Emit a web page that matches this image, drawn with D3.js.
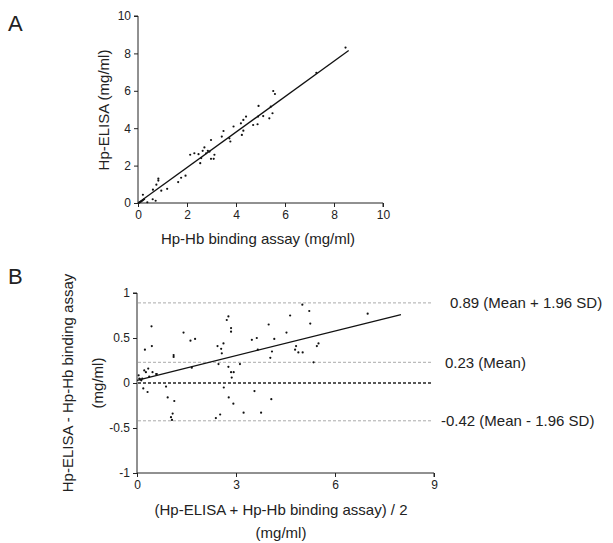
<!DOCTYPE html>
<html>
<head>
<meta charset="utf-8">
<script src="https://cdn.jsdelivr.net/npm/d3@7"></script>
<style>
  body { margin: 0; background: #fff; }
  svg { font-family: "Liberation Sans", Arial, sans-serif; fill: #222; }
  .axis path, .axis line { stroke: #222; }
  .axis text { font-size: 12px; fill: #222; }
</style>
</head>
<body>
<div id="vis"></div>
<script>
// Panel A: Hp-Hb binding assay (x) vs Hp-ELISA (y), mg/ml
var corrX = [0.05, 0.1, 0.15, 0.2, 0.25, 0.2, 0.38, 0.6, 0.61, 0.72, 0.75, 0.83, 0.83, 0.95, 1.19, 1.64, 1.76, 1.94,
  2.13, 2.3, 2.47, 2.54, 2.58, 2.64, 2.71, 2.78, 2.85, 2.92, 2.98, 2.98, 3.09, 3.12, 3.42, 3.49, 3.73, 3.77, 3.9,
  4.2, 4.24, 4.3, 4.41, 4.3, 4.7, 4.88, 4.92, 4.9, 5.11, 5.36, 5.42, 5.49, 5.52, 5.59, 7.28, 8.47];
var corrY = [0.02, 0.06, 0.1, 0.15, 0.2, 0.44, 0.04, 0.2, 0.71, 0.12, 0.98, 1.3, 1.2, 0.66, 0.76, 1.12, 1.35, 1.46,
  2.58, 2.66, 2.61, 2.13, 2.4, 2.79, 2.97, 2.66, 2.79, 2.75, 3.37, 2.36, 2.36, 2.58, 3.55, 3.85, 3.46, 3.29, 4.09,
  4.26, 3.64, 4.44, 4.62, 3.87, 4.17, 4.21, 5.19, 4.62, 4.65, 4.53, 5.15, 4.8, 5.99, 5.83, 6.96, 8.31];
var corrFit = [[0, 0], [8.6, 8.15]];
var corrTicks = [0, 2, 4, 6, 8, 10];

// Panel B: Bland-Altman, mean (x) vs difference (y)
var baX = [0.05, 0.07, 0.1, 0.13, 0.16, 0.19, 0.22, 0.24, 0.27, 0.32, 0.34, 0.37, 0.44, 0.45, 0.47, 0.58, 0.6,
  0.88, 0.93, 1.03, 1.06, 1.08, 1.11, 1.11, 1.13, 1.41, 1.62, 1.66, 1.76, 2.39, 2.44, 2.47, 2.52, 2.55, 2.57,
  2.62, 2.63, 2.72, 2.77, 2.77, 2.78, 2.85, 2.85, 2.85, 2.87, 2.92, 2.93, 3.12, 3.23, 3.48, 3.56, 3.63, 3.66,
  3.76, 3.99, 4.04, 4.07, 4.09, 4.16, 4.53, 4.64, 4.79, 4.82, 4.89, 5.01, 5.02, 5.22, 5.25, 5.35, 5.45, 5.5, 6.99];
var baY = [0.085, 0.05, 0.04, 0.03, 0.05, -0.06, 0.14, 0.37, 0.12, -0.1, 0.16, 0.07, 0.63, 0.41, 0.12, 0.1, 0.1,
  -0.04, -0.16, -0.38, -0.41, -0.34, 0.31, 0.29, -0.2, 0.56, 0.47, 0.17, 0.49, -0.39, 0.41, 0.21, -0.35, 0.38, 0.33,
  0.44, -0.05, 0.7, 0.74, 0.18, -0.16, 0.61, 0.57, 0.12, 0.06, -0.23, 0.12, 0.21, -0.33, 0.48, -0.09, 0.5, 0.37,
  -0.33, 0.65, 0.28, -0.18, 0.35, 0.49, 0.56, 0.75, 0.37, 0.41, 0.34, 0.87, 0.34, 0.8, 0.66, 0.23, 0.41, 0.44, 0.77];
var baFit = [[0, 0.03], [8, 0.76]];
var refValues = [0.89, 0.23, 0, -0.42];
var refLabels = ['0.89 (Mean + 1.96 SD)', '0.23 (Mean)', '', '-0.42 (Mean - 1.96 SD)'];
var baXTicks = [0, 3, 6, 9];
var baYTicks = [1, 0.5, 0, -0.5, -1];

var width = 613;
var height = 543;

var svg = d3.select('#vis').append('svg')
  .attr('width', width)
  .attr('height', height);

// ---- Panel A ----
var xA = d3.scaleLinear().domain([0, 10]).range([138, 383]);
var yA = d3.scaleLinear().domain([0, 10]).range([203, 16]);

svg.append('g')
  .attr('class', 'axis')
  .attr('transform', 'translate(0,' + yA(0) + ')')
  .call(d3.axisBottom(xA).tickValues(corrTicks).tickSize(4).tickFormat(d3.format('d')))
  .call(function (g) { g.select('.domain').attr('d', 'M' + xA(0) + ',0H' + xA(10) + 'V4'); });

svg.append('g')
  .attr('class', 'axis')
  .attr('transform', 'translate(' + xA(0) + ',0)')
  .call(d3.axisLeft(yA).tickValues(corrTicks).tickSize(4).tickFormat(d3.format('d')))
  .call(function (g) { g.select('.domain').attr('d', 'M-4,' + yA(10) + 'H0V' + yA(0)); });

svg.append('g').selectAll('circle')
  .data(d3.range(corrX.length))
  .enter().append('circle')
  .attr('cx', function (i) { return xA(corrX[i]); })
  .attr('cy', function (i) { return yA(corrY[i]); })
  .attr('r', 1.1)
  .attr('fill', '#111');

svg.append('line')
  .attr('x1', xA(corrFit[0][0])).attr('y1', yA(corrFit[0][1]))
  .attr('x2', xA(corrFit[1][0])).attr('y2', yA(corrFit[1][1]))
  .attr('stroke', '#111').attr('stroke-width', 1.3);

svg.append('text')
  .attr('x', 8).attr('y', 31)
  .attr('font-size', 22)
  .text('A');

svg.append('text')
  .attr('transform', 'translate(109,110) rotate(-90)')
  .attr('text-anchor', 'middle')
  .attr('font-size', 15)
  .text('Hp-ELISA  (mg/ml)');

svg.append('text')
  .attr('x', 258).attr('y', 244)
  .attr('text-anchor', 'middle')
  .attr('font-size', 15)
  .text('Hp-Hb binding assay (mg/ml)');

// ---- Panel B ----
var xB = d3.scaleLinear().domain([0, 9]).range([137, 434]);
var yB = d3.scaleLinear().domain([-1, 1]).range([473, 293]);

svg.append('g')
  .attr('class', 'axis')
  .attr('transform', 'translate(0,' + yB(-1) + ')')
  .call(d3.axisBottom(xB).tickValues(baXTicks).tickSize(4).tickFormat(d3.format('d')))
  .call(function (g) { g.select('.domain').attr('d', 'M' + xB(0) + ',0H' + xB(9) + 'V4'); });

svg.append('g')
  .attr('class', 'axis')
  .attr('transform', 'translate(' + xB(0) + ',0)')
  .call(d3.axisLeft(yB).tickValues(baYTicks).tickSize(4).tickFormat(function (d) { return String(d); }))
  .call(function (g) { g.select('.domain').attr('d', 'M-4,' + yB(1) + 'H0V' + yB(-1)); });

var refs = svg.append('g').selectAll('g')
  .data(d3.range(refValues.length))
  .enter().append('g');

refs.append('line')
  .attr('x1', xB(0) + 1)
  .attr('x2', 433)
  .attr('y1', function (i) { return yB(refValues[i]); })
  .attr('y2', function (i) { return yB(refValues[i]); })
  .attr('stroke', function (i) { return refValues[i] === 0 ? '#222' : '#aaa'; })
  .attr('stroke-width', function (i) { return refValues[i] === 0 ? 1.3 : 1; })
  .attr('stroke-dasharray', '3,2');

refs.append('text')
  .attr('x', function (i) { return [450, 445, 0, 441][i]; })
  .attr('y', function (i) { return yB(refValues[i]); })
  .attr('dy', '0.35em')
  .attr('font-size', 15)
  .text(function (i) { return refLabels[i]; });

svg.append('g').selectAll('circle')
  .data(d3.range(baX.length))
  .enter().append('circle')
  .attr('cx', function (i) { return xB(baX[i]); })
  .attr('cy', function (i) { return yB(baY[i]); })
  .attr('r', 1.1)
  .attr('fill', '#111');

svg.append('line')
  .attr('x1', xB(baFit[0][0])).attr('y1', yB(baFit[0][1]))
  .attr('x2', xB(baFit[1][0])).attr('y2', yB(baFit[1][1]))
  .attr('stroke', '#111').attr('stroke-width', 1.3);

svg.append('text')
  .attr('x', 8).attr('y', 284)
  .attr('font-size', 22)
  .text('B');

svg.append('text')
  .attr('transform', 'translate(73,383) rotate(-90)')
  .attr('text-anchor', 'middle')
  .attr('font-size', 15)
  .text('Hp-ELISA - Hp-Hb binding assay');

svg.append('text')
  .attr('transform', 'translate(103,383) rotate(-90)')
  .attr('text-anchor', 'middle')
  .attr('font-size', 15)
  .text('(mg/ml)');

svg.append('text')
  .attr('x', 281).attr('y', 515)
  .attr('text-anchor', 'middle')
  .attr('font-size', 15)
  .text('(Hp-ELISA + Hp-Hb binding assay) / 2');

svg.append('text')
  .attr('x', 281).attr('y', 538)
  .attr('text-anchor', 'middle')
  .attr('font-size', 15)
  .text('(mg/ml)');
</script>
</body>
</html>
